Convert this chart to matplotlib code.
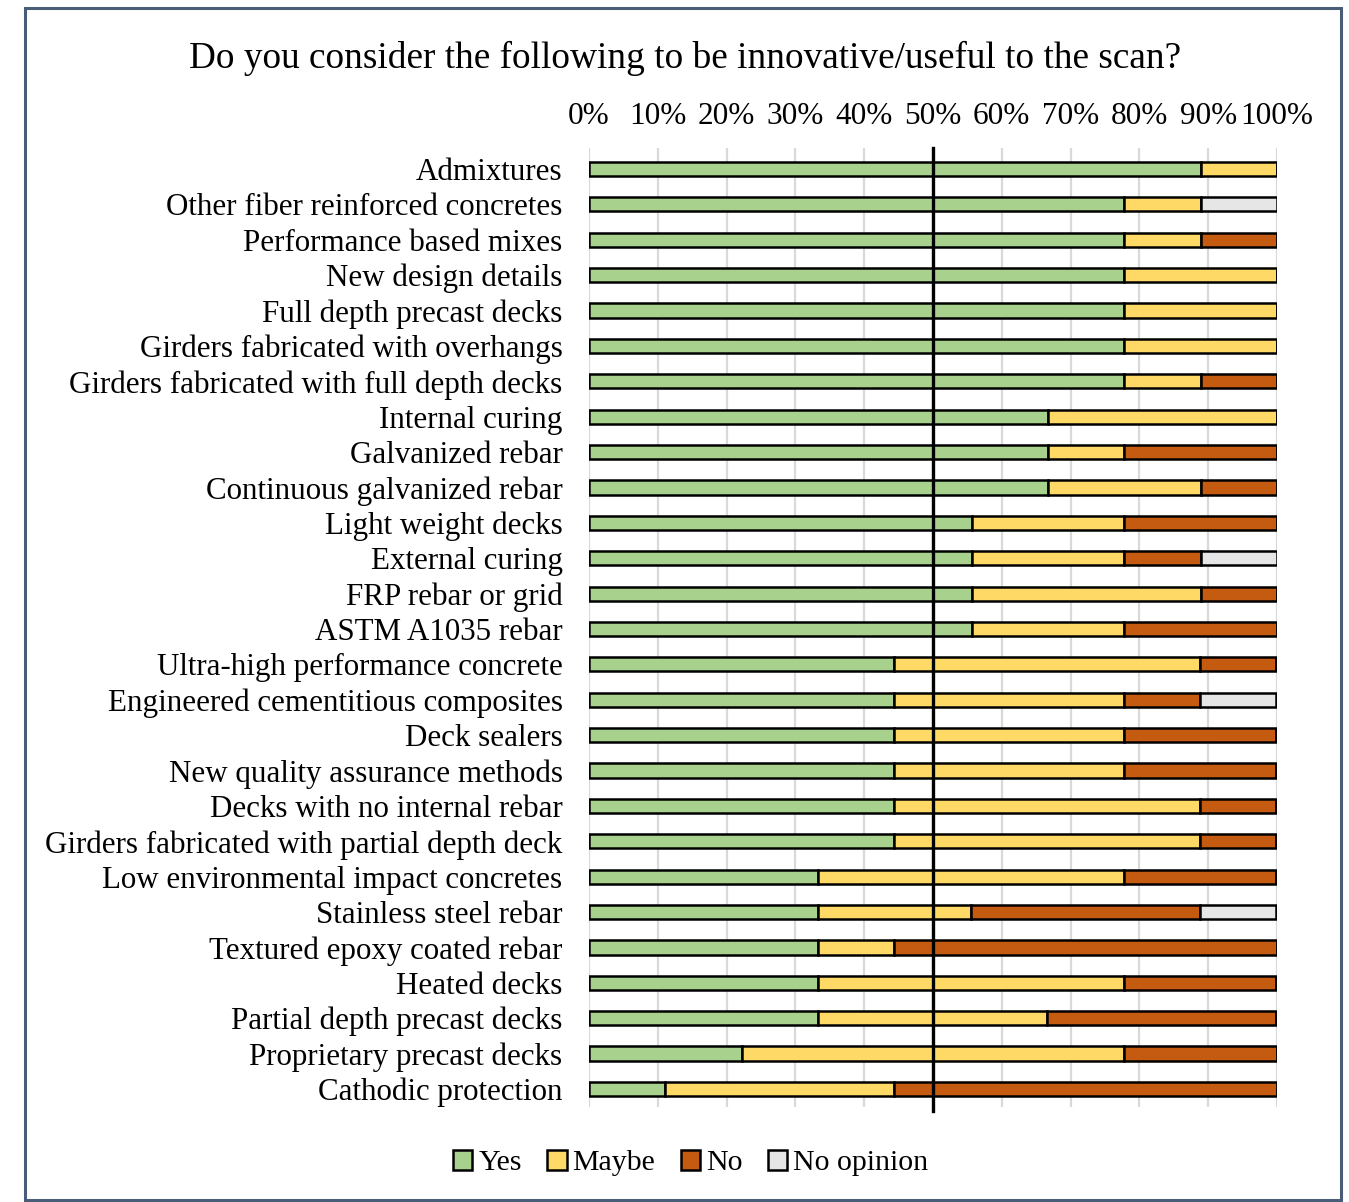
import numpy as np
import matplotlib.pyplot as plt
from matplotlib.patches import Rectangle

plt.rcParams["font.family"] = ["Liberation Serif", "DejaVu Serif"]

categories = [
    "Admixtures", "Other fiber reinforced concretes", "Performance based mixes",
    "New design details", "Full depth precast decks", "Girders fabricated with overhangs",
    "Girders fabricated with full depth decks", "Internal curing", "Galvanized rebar",
    "Continuous galvanized rebar", "Light weight decks", "External curing",
    "FRP rebar or grid", "ASTM A1035 rebar", "Ultra-high performance concrete",
    "Engineered cementitious composites", "Deck sealers", "New quality assurance methods",
    "Decks with no internal rebar", "Girders fabricated with partial depth deck",
    "Low environmental impact concretes", "Stainless steel rebar",
    "Textured epoxy coated rebar", "Heated decks", "Partial depth precast decks",
    "Proprietary precast decks", "Cathodic protection",
]
# percent of respondents
yes = [88.9, 77.8, 77.8, 77.8, 77.8, 77.8, 77.8, 66.7, 66.7, 66.7, 55.6, 55.6, 55.6, 55.6,
       44.4, 44.4, 44.4, 44.4, 44.4, 44.4, 33.3, 33.3, 33.3, 33.3, 33.3, 22.2, 11.1]
maybe = [11.1, 11.1, 11.1, 22.2, 22.2, 22.2, 11.1, 33.3, 11.1, 22.2, 22.2, 22.2, 33.3, 22.2,
         44.4, 33.3, 33.3, 33.3, 44.4, 44.4, 44.4, 22.2, 11.1, 44.4, 33.3, 55.6, 33.3]
no = [0.0, 0.0, 11.1, 0.0, 0.0, 0.0, 11.1, 0.0, 22.2, 11.1, 22.2, 11.1, 11.1, 22.2,
      11.1, 11.1, 22.2, 22.2, 11.1, 11.1, 22.2, 33.3, 55.6, 22.2, 33.3, 22.2, 55.6]
no_opinion = [0.0, 11.1, 0.0, 0.0, 0.0, 0.0, 0.0, 0.0, 0.0, 0.0, 0.0, 11.1, 0.0, 0.0,
              0.0, 11.1, 0.0, 0.0, 0.0, 0.0, 0.0, 11.1, 0.0, 0.0, 0.0, 0.0, 0.0]
series = [("Yes", yes, "#A9D18E"), ("Maybe", maybe, "#FFD966"),
          ("No", no, "#C55A11"), ("No opinion", no_opinion, "#E7E6E6")]
ticks = np.arange(0, 101, 10)

fig = plt.figure(figsize=(13.49, 12.02), dpi=100)
ax = fig.add_axes([589 / 1349, 1 - 1107 / 1202, (1277 - 589) / 1349, (1107 - 148) / 1202])

y = np.arange(len(categories))
left = np.zeros(len(categories))
for name, vals, col in series:
    vals = np.array(vals)
    ax.barh(y, vals, 0.4, left=left, color=col, edgecolor="black", linewidth=1.8,
            label=name, zorder=3)
    left += vals

ax.set_xlim(0, 100)
ax.set_ylim(len(categories) - 0.49, -0.594)
ax.set_yticks(y)
ax.set_yticklabels(categories, fontsize=22.3)
ax.set_xticks(ticks)
ax.set_xticklabels([f"{t}%" for t in ticks], fontsize=22.5)
ax.xaxis.tick_top()
ax.tick_params(axis="x", length=0, pad=12)
ax.tick_params(axis="y", length=0, pad=19)
for s in ax.spines.values():
    s.set_visible(False)
ax.grid(True, axis="x", color="#D9D9D9", linewidth=1.6, zorder=0)
ax.set_axisbelow(True)
ax.axvline(50, color="black", linewidth=2.4, zorder=5, ymin=-0.004, ymax=1.0, clip_on=False)

fig.text(0.508, 1 - 58 / 1202, "Do you consider the following to be innovative/useful to the scan?",
         ha="center", va="center", fontsize=26.8)

fig.legend(loc="center", bbox_to_anchor=(0.512, 1 - 1163 / 1202), ncol=4, frameon=False,
           fontsize=21.5, handlelength=0.65, handleheight=0.65, handletextpad=0.2,
           columnspacing=0.85)

fig.patches.append(Rectangle((25 / 1349, 1 - 1200 / 1202), 1316 / 1349, 1192 / 1202,
                             transform=fig.transFigure, fill=False,
                             edgecolor="#4A5D78", linewidth=2.2))

fig.savefig("out.png", dpi=100, facecolor="white")
